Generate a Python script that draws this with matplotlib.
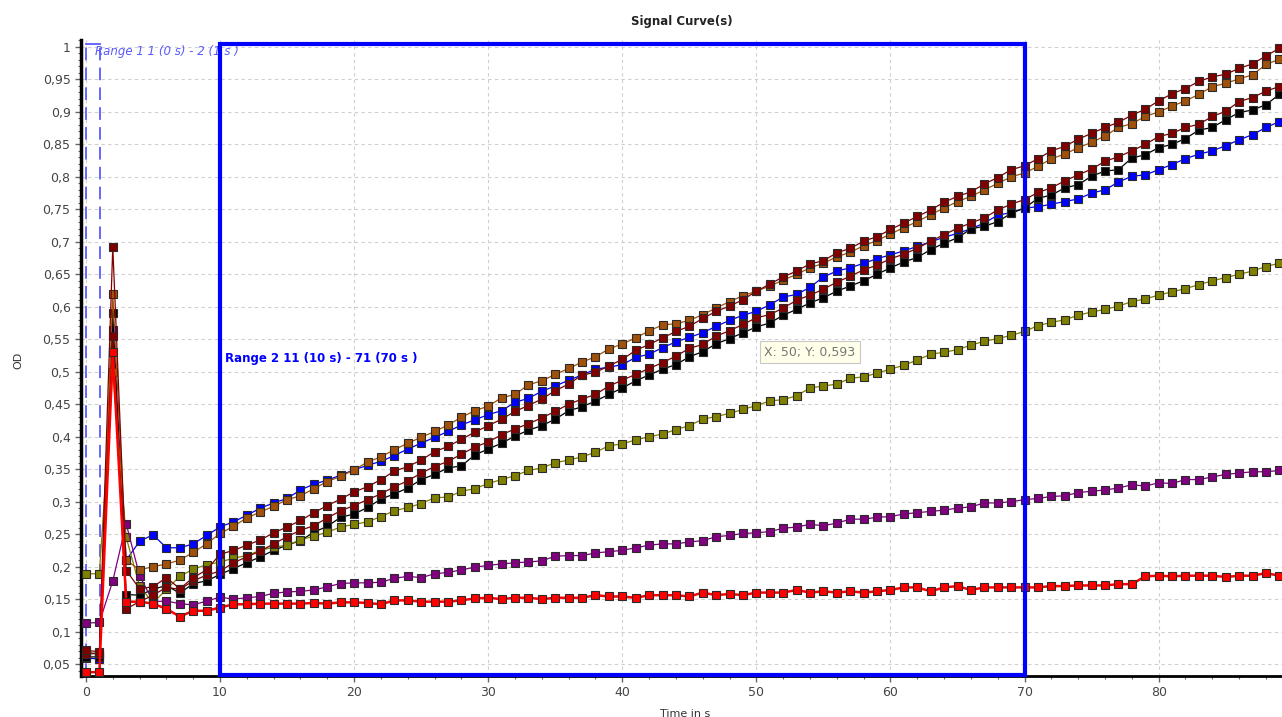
import matplotlib
matplotlib.use("Agg")
import matplotlib.pyplot as plt
from matplotlib.patches import Rectangle
from matplotlib.ticker import MultipleLocator, FuncFormatter

# time axis, one reading per second
time_s = list(range(90))

red = [0.037, 0.038, 0.530, 0.146, 0.146, 0.143, 0.135, 0.123, 0.132, 0.132,
       0.137, 0.142, 0.142, 0.143, 0.143, 0.143, 0.143, 0.144, 0.143, 0.145,
       0.145, 0.144, 0.142, 0.148, 0.148, 0.146, 0.146, 0.146, 0.148, 0.151,
       0.152, 0.150, 0.152, 0.152, 0.150, 0.152, 0.152, 0.152, 0.156, 0.154,
       0.154, 0.152, 0.156, 0.156, 0.156, 0.154, 0.160, 0.156, 0.158, 0.156,
       0.160, 0.160, 0.160, 0.164, 0.160, 0.162, 0.160, 0.162, 0.160, 0.162,
       0.164, 0.168, 0.168, 0.162, 0.168, 0.170, 0.164, 0.168, 0.168, 0.168,
       0.168, 0.168, 0.170, 0.170, 0.171, 0.171, 0.171, 0.173, 0.173, 0.185,
       0.186, 0.185, 0.186, 0.186, 0.186, 0.184, 0.186, 0.186, 0.190, 0.186]

purple = [0.113, 0.114, 0.178, 0.266, 0.186, 0.146, 0.147, 0.143, 0.141, 0.147,
          0.153, 0.150, 0.152, 0.154, 0.159, 0.161, 0.162, 0.164, 0.169, 0.174,
          0.175, 0.175, 0.176, 0.182, 0.185, 0.183, 0.189, 0.191, 0.195, 0.199,
          0.202, 0.204, 0.206, 0.207, 0.209, 0.216, 0.217, 0.217, 0.221, 0.223,
          0.225, 0.229, 0.233, 0.235, 0.235, 0.238, 0.240, 0.246, 0.248, 0.251,
          0.252, 0.254, 0.259, 0.261, 0.265, 0.263, 0.267, 0.273, 0.273, 0.276,
          0.277, 0.281, 0.283, 0.285, 0.287, 0.290, 0.292, 0.298, 0.298, 0.300,
          0.303, 0.305, 0.308, 0.309, 0.314, 0.316, 0.318, 0.321, 0.326, 0.324,
          0.329, 0.328, 0.334, 0.334, 0.338, 0.342, 0.344, 0.346, 0.346, 0.348]

olive = [0.189, 0.189, 0.500, 0.245, 0.170, 0.144, 0.165, 0.185, 0.196, 0.203,
         0.207, 0.213, 0.217, 0.225, 0.230, 0.233, 0.241, 0.247, 0.253, 0.261,
         0.265, 0.269, 0.277, 0.286, 0.291, 0.297, 0.306, 0.307, 0.316, 0.320,
         0.328, 0.334, 0.340, 0.348, 0.352, 0.360, 0.364, 0.369, 0.376, 0.386,
         0.389, 0.395, 0.400, 0.404, 0.411, 0.417, 0.427, 0.431, 0.436, 0.442,
         0.448, 0.455, 0.457, 0.463, 0.475, 0.478, 0.481, 0.490, 0.492, 0.498,
         0.504, 0.510, 0.518, 0.527, 0.530, 0.534, 0.541, 0.547, 0.551, 0.556,
         0.562, 0.571, 0.576, 0.580, 0.587, 0.592, 0.596, 0.601, 0.608, 0.612,
         0.618, 0.623, 0.628, 0.634, 0.640, 0.645, 0.650, 0.655, 0.662, 0.667]

blue = [0.059, 0.058, 0.565, 0.210, 0.239, 0.249, 0.229, 0.229, 0.235, 0.248,
        0.261, 0.269, 0.279, 0.290, 0.298, 0.305, 0.318, 0.327, 0.333, 0.341,
        0.349, 0.356, 0.362, 0.371, 0.381, 0.390, 0.399, 0.408, 0.418, 0.426,
        0.434, 0.440, 0.453, 0.459, 0.470, 0.478, 0.487, 0.495, 0.504, 0.507,
        0.511, 0.522, 0.527, 0.537, 0.546, 0.553, 0.560, 0.570, 0.579, 0.587,
        0.593, 0.603, 0.615, 0.619, 0.630, 0.646, 0.655, 0.660, 0.667, 0.674,
        0.680, 0.686, 0.693, 0.700, 0.707, 0.713, 0.720, 0.729, 0.741, 0.745,
        0.752, 0.754, 0.758, 0.762, 0.766, 0.775, 0.780, 0.792, 0.801, 0.803,
        0.811, 0.819, 0.828, 0.835, 0.840, 0.848, 0.857, 0.865, 0.876, 0.885]

black = [0.061, 0.061, 0.590, 0.157, 0.156, 0.165, 0.171, 0.159, 0.174, 0.178,
         0.188, 0.197, 0.206, 0.215, 0.225, 0.233, 0.240, 0.253, 0.262, 0.276,
         0.281, 0.291, 0.304, 0.312, 0.321, 0.334, 0.342, 0.352, 0.355, 0.372,
         0.381, 0.390, 0.401, 0.410, 0.417, 0.427, 0.440, 0.446, 0.455, 0.465,
         0.475, 0.486, 0.495, 0.504, 0.511, 0.523, 0.531, 0.543, 0.551, 0.560,
         0.569, 0.575, 0.587, 0.596, 0.606, 0.614, 0.624, 0.632, 0.640, 0.650,
         0.660, 0.669, 0.676, 0.688, 0.698, 0.706, 0.720, 0.724, 0.731, 0.744,
         0.752, 0.767, 0.772, 0.783, 0.788, 0.801, 0.809, 0.811, 0.829, 0.834,
         0.845, 0.850, 0.859, 0.872, 0.876, 0.888, 0.899, 0.903, 0.911, 0.927]

brown = [0.068, 0.066, 0.620, 0.210, 0.195, 0.200, 0.204, 0.210, 0.222, 0.235,
         0.251, 0.262, 0.275, 0.284, 0.293, 0.303, 0.309, 0.320, 0.331, 0.339,
         0.349, 0.361, 0.369, 0.380, 0.390, 0.399, 0.408, 0.418, 0.430, 0.440,
         0.447, 0.460, 0.465, 0.480, 0.486, 0.496, 0.505, 0.515, 0.523, 0.535,
         0.543, 0.552, 0.563, 0.572, 0.574, 0.579, 0.588, 0.598, 0.608, 0.617,
         0.624, 0.632, 0.641, 0.650, 0.660, 0.667, 0.677, 0.684, 0.694, 0.702,
         0.712, 0.722, 0.731, 0.742, 0.752, 0.762, 0.770, 0.780, 0.790, 0.800,
         0.806, 0.816, 0.828, 0.835, 0.845, 0.853, 0.863, 0.876, 0.882, 0.893,
         0.900, 0.909, 0.917, 0.927, 0.939, 0.944, 0.951, 0.957, 0.973, 0.981]

darkred_2 = [0.066, 0.066, 0.555, 0.135, 0.146, 0.156, 0.168, 0.165, 0.178, 0.187,
             0.193, 0.206, 0.215, 0.224, 0.235, 0.246, 0.256, 0.263, 0.275, 0.286,
             0.294, 0.303, 0.312, 0.323, 0.332, 0.344, 0.354, 0.362, 0.373, 0.384,
             0.392, 0.403, 0.412, 0.420, 0.429, 0.439, 0.450, 0.458, 0.465, 0.478,
             0.487, 0.496, 0.505, 0.514, 0.524, 0.536, 0.542, 0.555, 0.563, 0.573,
             0.583, 0.588, 0.598, 0.610, 0.618, 0.627, 0.638, 0.647, 0.657, 0.664,
             0.674, 0.681, 0.690, 0.701, 0.711, 0.721, 0.729, 0.737, 0.749, 0.758,
             0.765, 0.776, 0.783, 0.794, 0.803, 0.812, 0.824, 0.831, 0.840, 0.850,
             0.862, 0.867, 0.876, 0.881, 0.893, 0.901, 0.916, 0.922, 0.932, 0.939]

darkred_1 = [0.071, 0.069, 0.692, 0.194, 0.166, 0.169, 0.183, 0.166, 0.183, 0.195,
             0.219, 0.225, 0.233, 0.241, 0.252, 0.261, 0.271, 0.283, 0.294, 0.304,
             0.315, 0.323, 0.334, 0.347, 0.354, 0.364, 0.377, 0.385, 0.396, 0.407,
             0.417, 0.427, 0.439, 0.448, 0.458, 0.471, 0.481, 0.495, 0.499, 0.509,
             0.519, 0.533, 0.542, 0.552, 0.562, 0.570, 0.582, 0.593, 0.601, 0.611,
             0.624, 0.635, 0.646, 0.655, 0.666, 0.671, 0.683, 0.690, 0.701, 0.708,
             0.719, 0.729, 0.739, 0.749, 0.761, 0.770, 0.777, 0.789, 0.799, 0.811,
             0.817, 0.828, 0.840, 0.847, 0.858, 0.867, 0.876, 0.884, 0.895, 0.904,
             0.917, 0.928, 0.936, 0.947, 0.954, 0.958, 0.967, 0.974, 0.986, 0.998]

# plotting order = stacking order (last one on top)
series = [
    (blue, "#0000ff", 0.9),
    (black, "#000000", 0.9),
    (olive, "#808000", 0.9),
    (purple, "#800080", 0.9),
    (brown, "#a0520a", 0.9),
    (darkred_2, "#800000", 0.9),
    (darkred_1, "#800000", 0.9),
    (red, "#ff0000", 1.8),
]

fig = plt.figure(figsize=(12.82, 7.17), dpi=100)
ax = fig.add_axes([81 / 1282, 41 / 717, 1 - 81 / 1282, 636 / 717])

for vals, col, lw in series:
    ax.plot(time_s, vals, color=col, lw=lw, marker="s", markersize=6.2,
            markerfacecolor=col, markeredgecolor="#2a2a2a", markeredgewidth=0.8,
            zorder=3)

ax.set_xlim(-0.37, 89.2)
ax.set_ylim(0.0316, 1.0107)

ax.xaxis.set_major_locator(MultipleLocator(10))
ax.xaxis.set_minor_locator(MultipleLocator(2))
ax.yaxis.set_major_locator(MultipleLocator(0.05))
ax.yaxis.set_minor_locator(MultipleLocator(0.01))
ax.yaxis.set_major_formatter(FuncFormatter(lambda v, p: ("%g" % round(v, 2)).replace(".", ",")))

ax.grid(True, which="major", color="#cfcfcf", linestyle=(0, (3, 3)), linewidth=0.8)
ax.set_axisbelow(True)

for s in ["top", "right"]:
    ax.spines[s].set_visible(False)
ax.spines["left"].set_linewidth(2.5)
ax.spines["bottom"].set_linewidth(2.0)
ax.tick_params(axis="both", which="major", labelsize=9, labelcolor="#444444",
               length=4, width=1, color="#666666")
ax.tick_params(axis="both", which="minor", length=2, width=0.8, color="#666666")

# range markers
ax.plot([0, 0], [0.0316, 1.004], color="#5a5aff", lw=1.3, linestyle=(0, (7, 4)), zorder=2)
ax.plot([1.04, 1.04], [0.0316, 1.004], color="#5a5aff", lw=1.3, linestyle=(0, (7, 4)), zorder=2)
ax.plot([0, 1.04], [1.004, 1.004], color="#5a5aff", lw=1.3, zorder=2)
ax.text(0.65, 0.993, "Range 1 1 (0 s) - 2 (1 s )", color="#5a5aff", style="italic",
        fontsize=8.5, va="center", ha="left", zorder=1)

ax.add_patch(Rectangle((10, 0.0335), 60, 1.004 - 0.0335, fill=False,
                       edgecolor="#0000ff", lw=3, zorder=4, clip_on=False))
ax.text(10.35, 0.521, "Range 2 11 (10 s) - 71 (70 s )", color="#0000ff",
        fontweight="bold", fontsize=8.5, va="center", ha="left", zorder=5)

ax.text(50.6, 0.530, "X: 50; Y: 0,593", color="#777777", fontsize=9, va="center",
        ha="left", zorder=6,
        bbox=dict(boxstyle="square,pad=0.35", fc="#ffffea", ec="#c8c8c8", lw=0.8))

fig.text(682 / 1282, 1 - 22 / 717, "Signal Curve(s)", ha="center", va="center",
         fontsize=8.5, fontweight="bold", color="#222222")
fig.text(18 / 1282, 1 - 360 / 717, "OD", rotation=90, ha="center", va="center",
         fontsize=8, color="#333333")
fig.text(685 / 1282, 1 - 714 / 717, "Time in s", ha="center", va="center",
         fontsize=8, color="#333333")

fig.savefig("out.png", dpi=100)
